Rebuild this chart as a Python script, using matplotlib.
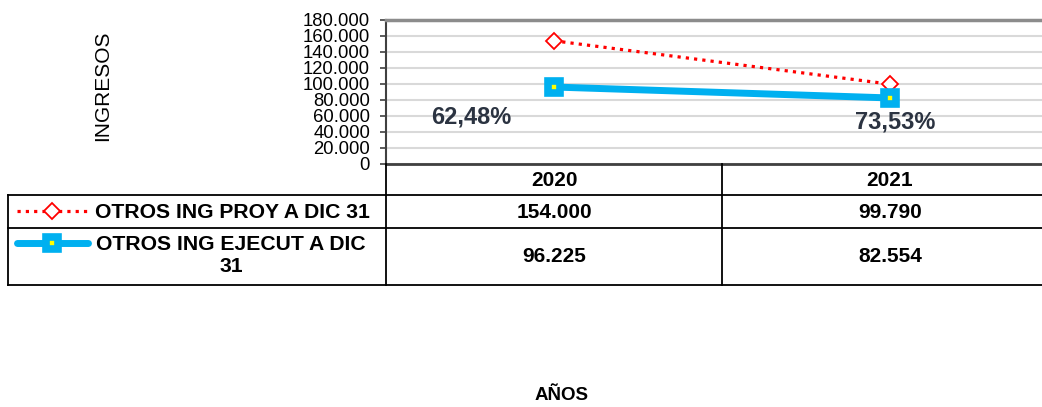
"""Otros ingresos: proyectado vs ejecutado, line chart with data table below."""
import matplotlib
matplotlib.use("Agg")
import matplotlib.pyplot as plt
from matplotlib.lines import Line2D
from matplotlib.ticker import FuncFormatter

plt.rcParams["font.family"] = ["Liberation Sans", "DejaVu Sans"]

YEARS = ["2020", "2021"]
PROY = [154000, 99790]
EJEC = [96225, 82554]
PCT_LABELS = ["62,48%", "73,53%"]
SERIES_NAMES = ["OTROS ING PROY A DIC 31", "OTROS ING EJECUT A DIC\n31"]

W, H = 1042, 407
RED = "#ff0000"
BLUE = "#00b0f0"
DOTS = (0, (1, 1.6))


def fx(x):
    return x / W


def fy(y):
    return 1 - y / H


def thousands(v, _):
    return f"{int(v):,}".replace(",", ".")


fig = plt.figure(figsize=(W / 100, H / 100), dpi=100)
ax = fig.add_axes([fx(386), fy(164), fx(1042) - fx(386), fy(20) - fy(164)])

xs = list(range(len(YEARS)))
ax.plot(xs, PROY, color=RED, linestyle=DOTS, linewidth=2.3,
        marker="D", markersize=8, markerfacecolor="white",
        markeredgecolor=RED, markeredgewidth=1.3, zorder=3)
ax.plot(xs, EJEC, color=BLUE, linewidth=5, marker="s", markersize=8,
        markerfacecolor="#ffff00", markeredgecolor=BLUE,
        markeredgewidth=5.5, zorder=4)

# percentage labels sit below-left / below the executed points
offsets = [(-83, -30), (5, -24)]
for x, y, lab, off in zip(xs, EJEC, PCT_LABELS, offsets):
    ax.annotate(lab, (x, y), xytext=off, textcoords="offset pixels",
                ha="center", va="center", fontsize=17,
                fontweight="bold", color="#2b3341")

ax.set_xlim(-0.5, (1042 - 386) / 336 - 0.5)
ax.set_ylim(0, 180000)
ax.set_yticks(range(0, 180001, 20000))
ax.yaxis.set_major_formatter(FuncFormatter(thousands))
ax.tick_params(axis="y", labelsize=13.3, length=4.5, width=1.2,
               color="#404040", pad=7)
ax.set_xticks([])
ax.grid(axis="y", color="#d9d9d9", linewidth=1.5)
ax.set_axisbelow(True)
ax.spines["top"].set_color("#8c8c8c")
ax.spines["top"].set_linewidth(2.5)
ax.spines["left"].set_color("#404040")
ax.spines["left"].set_linewidth(1.5)
ax.spines["bottom"].set_color("#404040")
ax.spines["bottom"].set_linewidth(2)
ax.spines["right"].set_visible(False)

fig.text(fx(103), fy(86), "INGRESOS", rotation=90, ha="center", va="center",
         fontsize=15)
fig.text(fx(562), fy(396), "AÑOS", ha="center", va="center", fontsize=13.5,
         fontweight="bold")

# data table under the plot
def hline(y, x0, x1=W):
    fig.add_artist(Line2D([fx(x0), fx(x1)], [fy(y), fy(y)], color="black",
                          linewidth=1.3))


def vline(x, y0, y1):
    fig.add_artist(Line2D([fx(x), fx(x)], [fy(y0), fy(y1)], color="black",
                          linewidth=1.3))


hline(195, 8)
hline(228, 8)
hline(285, 8)
vline(8, 195, 285)
vline(386, 164, 285)
vline(722, 164, 285)

col_x = [554, 890]
for cx, yr in zip(col_x, YEARS):
    fig.text(fx(cx), fy(180), yr, ha="center", va="center", fontsize=15,
             fontweight="bold")
for cx, p, e in zip(col_x, PROY, EJEC):
    fig.text(fx(cx), fy(212), thousands(p, None), ha="center", va="center",
             fontsize=15, fontweight="bold")
    fig.text(fx(cx), fy(257), thousands(e, None), ha="center", va="center",
             fontsize=15, fontweight="bold")

# legend keys in the first column
fig.add_artist(Line2D([fx(17), fx(88)], [fy(211), fy(211)], color=RED,
                      linestyle=DOTS, linewidth=2.3))
fig.add_artist(Line2D([fx(52)], [fy(211)], marker="D", markersize=8,
                      markerfacecolor="white", markeredgecolor=RED,
                      markeredgewidth=1.3, linestyle="none"))
fig.add_artist(Line2D([fx(17), fx(88)], [fy(243), fy(243)], color=BLUE,
                      linewidth=5, solid_capstyle="round"))
fig.add_artist(Line2D([fx(52)], [fy(243)], marker="s", markersize=8,
                      markerfacecolor="#ffff00", markeredgecolor=BLUE,
                      markeredgewidth=5.5, linestyle="none"))

fig.text(fx(95), fy(212), SERIES_NAMES[0], ha="left", va="center",
         fontsize=15.2, fontweight="bold")
fig.text(fx(231), fy(256), SERIES_NAMES[1], ha="center", va="center",
         fontsize=15.2, fontweight="bold", multialignment="center",
         linespacing=1.2)

fig.savefig("out.png", dpi=100)
